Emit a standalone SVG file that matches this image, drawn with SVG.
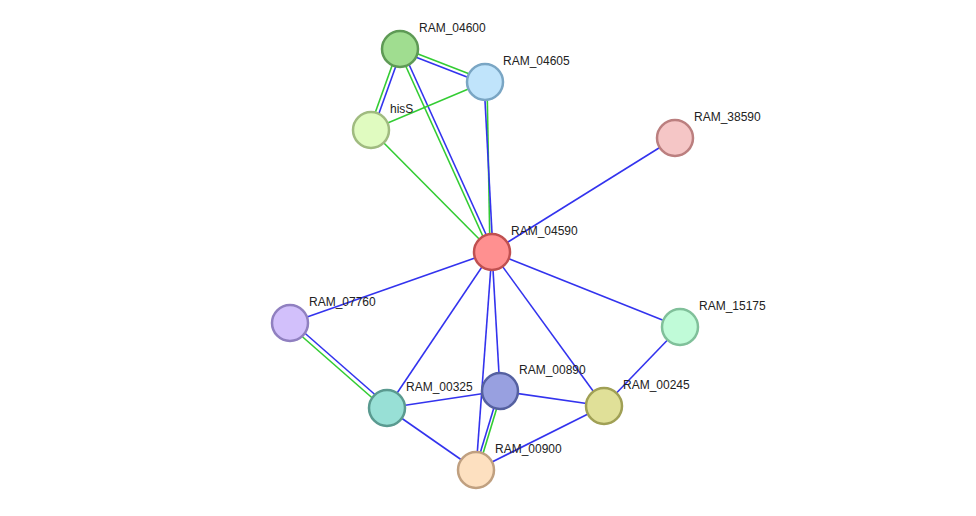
<svg xmlns="http://www.w3.org/2000/svg" width="976" height="516" viewBox="0 0 976 516">
<style>
.b{stroke:#3333ee;stroke-width:1.6;fill:none}
.g{stroke:#33cc33;stroke-width:1.6;fill:none}
.n{stroke-width:2.5}
text{font-family:"Liberation Sans",Arial,sans-serif;font-size:12px;fill:#222}
</style>
<rect width="976" height="516" fill="#fff"/>
<g id="edges">
<line class="g" x1="400" y1="47" x2="485" y2="80"/><line class="b" x1="400" y1="51" x2="485" y2="84"/>
<line class="g" x1="398" y1="49" x2="369" y2="130"/><line class="b" x1="402" y1="49" x2="373" y2="130"/>
<line class="g" x1="398" y1="49" x2="490" y2="252"/><line class="b" x1="402" y1="49" x2="494" y2="252"/>
<line class="g" x1="485" y1="82" x2="371" y2="130"/>
<line class="g" x1="487" y1="82" x2="490" y2="252"/><line class="b" x1="484" y1="82" x2="493" y2="252"/>
<line class="g" x1="371" y1="130" x2="492" y2="252"/>
<line class="b" x1="675" y1="138" x2="492" y2="252"/>
<line class="b" x1="492" y1="252" x2="290" y2="323"/>
<line class="b" x1="492" y1="252" x2="680" y2="327"/>
<line class="b" x1="492" y1="252" x2="387" y2="408"/>
<line class="b" x1="492" y1="252" x2="500" y2="391"/>
<line class="b" x1="492" y1="252" x2="476" y2="470"/>
<line class="b" x1="492" y1="252" x2="604" y2="406"/>
<line class="g" x1="289" y1="325" x2="386" y2="410"/><line class="b" x1="291" y1="321" x2="388" y2="406"/>
<line class="b" x1="387" y1="408" x2="500" y2="391"/>
<line class="b" x1="387" y1="408" x2="476" y2="470"/>
<line class="b" x1="500" y1="391" x2="604" y2="406"/>
<line class="g" x1="502" y1="391" x2="478" y2="470"/><line class="b" x1="499" y1="391" x2="475" y2="470"/>
<line class="b" x1="476" y1="470" x2="604" y2="406"/>
<line class="b" x1="680" y1="327" x2="604" y2="406"/>
</g>
<g id="RAM_04600"><circle class="n" cx="400" cy="49" r="18" fill="#a0dd90" stroke="#5e9a55"/><text x="419" y="32">RAM_04600</text></g>
<g id="RAM_04605"><circle class="n" cx="485" cy="82" r="18" fill="#c0e4fb" stroke="#7aa6c4"/><text x="503" y="65">RAM_04605</text></g>
<g id="hisS"><circle class="n" cx="371" cy="130" r="18" fill="#e0fbc0" stroke="#a0bb80"/><text x="390" y="113">hisS</text></g>
<g id="RAM_38590"><circle class="n" cx="675" cy="138" r="18" fill="#f5c6c6" stroke="#bb7f7f"/><text x="694" y="121">RAM_38590</text></g>
<g id="RAM_04590"><circle class="n" cx="492" cy="252" r="18" fill="#ff9090" stroke="#c05050"/><text x="511" y="235">RAM_04590</text></g>
<g id="RAM_07760"><circle class="n" cx="290" cy="323" r="18" fill="#d2c0fb" stroke="#9080c0"/><text x="309" y="306">RAM_07760</text></g>
<g id="RAM_15175"><circle class="n" cx="680" cy="327" r="18" fill="#c0fbd8" stroke="#80c09a"/><text x="699" y="310">RAM_15175</text></g>
<g id="RAM_00325"><circle class="n" cx="387" cy="408" r="18" fill="#98e0d6" stroke="#5a9a90"/><text x="406" y="391">RAM_00325</text></g>
<g id="RAM_00890"><circle class="n" cx="500" cy="391" r="18" fill="#98a0e0" stroke="#5560a0"/><text x="519" y="374">RAM_00890</text></g>
<g id="RAM_00245"><circle class="n" cx="604" cy="406" r="18" fill="#e0e098" stroke="#a0a055"/><text x="623" y="389">RAM_00245</text></g>
<g id="RAM_00900"><circle class="n" cx="476" cy="470" r="18" fill="#fde0c0" stroke="#c0a080"/><text x="495" y="453">RAM_00900</text></g>
</svg>
